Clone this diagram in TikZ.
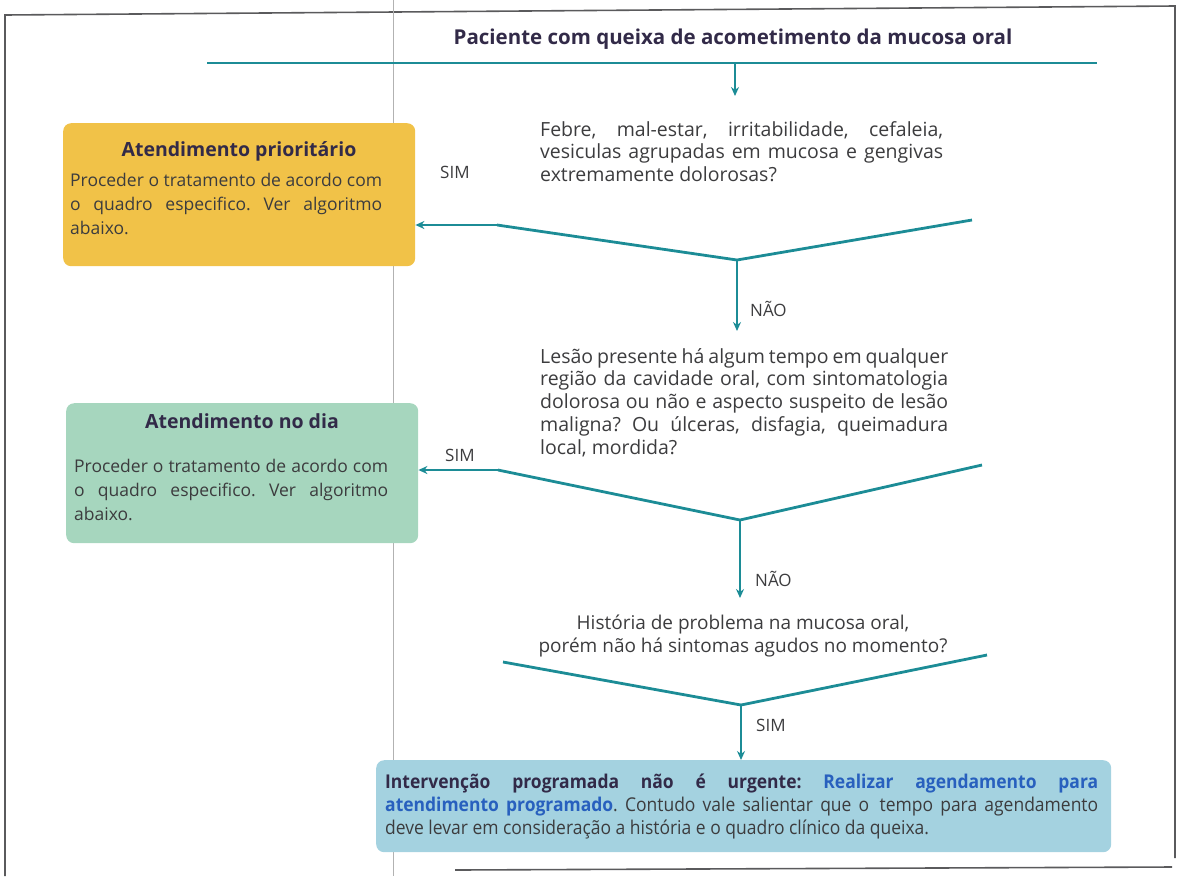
\documentclass[tikz,border=0pt]{standalone}
\usepackage{fontspec}
\setmainfont{Open Sans}
\newfontfamily\narrowfont[FakeStretch=0.92]{Open Sans}
\usetikzlibrary{arrows.meta}
\definecolor{flowline}{RGB}{28,140,150}
\definecolor{bodytext}{RGB}{60,60,62}
\definecolor{headtext}{RGB}{50,42,72}
\definecolor{prioFill}{RGB}{241,194,72}
\definecolor{diaFill}{RGB}{166,214,190}
\definecolor{progFill}{RGB}{164,210,224}
\definecolor{linkblue}{RGB}{40,96,190}
\definecolor{frame}{RGB}{90,90,92}
\hyphenpenalty=10000
\frenchspacing
\begin{document}
\begin{tikzpicture}[x=1pt,y=-1pt,
  flow/.style={draw=flowline, line width=2.8pt, line join=round},
  arr/.style={flow, -{Stealth[length=9pt,width=8pt]}},
  qtext/.style={text=bodytext, font=\fontsize{19.5}{22.8}\selectfont, align=justify, inner sep=0pt, anchor=base west},
  answer/.style={text=bodytext, font=\fontsize{17}{18}\selectfont, inner sep=0pt, anchor=base west},
  panel/.style={rounded corners=8pt, inner sep=0pt, anchor=north west},
  panelhead/.style={text=headtext, font=\fontsize{19.5}{20}\selectfont\bfseries, inner sep=0pt, anchor=base},
  panelbody/.style={text=bodytext, font=\fontsize{17.5}{24.3}\selectfont, align=justify, inner sep=0pt, anchor=base west}]
\useasboundingbox (0,0) rectangle (1182,876);

% page frame and fold
\draw[frame, line width=1.6pt] (5,876) -- (5,15) -- (1175,6) -- (1175,858);
\draw[frame, line width=1.6pt] (455,870) -- (1172,867);
\draw[gray!60, line width=1pt] (393,0) -- (393,876);

% heading
\node[text=headtext, font=\fontsize{20.5}{22}\selectfont\bfseries, inner sep=0pt, anchor=base] (title) at (733,44)
  {Paciente com queixa de acometimento da mucosa oral};
\coordinate (hl) at (207,63);
\coordinate (hr) at (1097,63);
\coordinate (hm) at (735,63);
\draw[flow] (hl) -- (hr);

% first question
\node[qtext, text width=403pt] (q1) at (540,136)
  {Febre, mal-estar, irritabilidade, cefaleia,\linebreak vesiculas agrupadas em mucosa e gengivas\linebreak extremamente dolorosas?};
\draw[arr] (hm) -- (735,96);

% priority panel
\node[panel, fill=prioFill, minimum width=352pt, minimum height=143pt] (prio) at (63,123) {};
\node[panelhead] (prioT) at (239,156) {Atendimento prioritário};
\node[panelbody, text width=312pt] (prioB) at (70,186)
  {Proceder o tratamento de acordo com\linebreak o quadro especifico. Ver algoritmo\linebreak abaixo.};

% first decision
\coordinate (v1) at (737,260);
\coordinate (v1r) at (972,220);
\coordinate (v1l) at (497,225);
\draw[flow] (v1r) -- (v1) -- (v1l);
\draw[arr] (v1l) -- (v1l -| prio.east);
\node[answer] (sim1) at (440,178) {SIM};
\draw[arr] (v1) -- (737,331);
\node[answer] (nao1) at (750,316) {NÃO};

% second question
\node[qtext, text width=408pt] (q2) at (540,363)
  {Lesão presente há algum tempo em qualquer\linebreak região da cavidade oral, com sintomatologia\linebreak dolorosa ou não e aspecto suspeito de lesão\linebreak maligna? Ou úlceras, disfagia, queimadura\linebreak local, mordida?};

% same-day panel
\node[panel, fill=diaFill, minimum width=352pt, minimum height=140pt] (dia) at (66,403) {};
\node[panelhead] (diaT) at (242,428) {Atendimento no dia};
\node[panelbody, text width=314pt] (diaB) at (74,472)
  {Proceder o tratamento de acordo com\linebreak o quadro especifico. Ver algoritmo\linebreak abaixo.};

% second decision
\coordinate (v2) at (740,520);
\coordinate (v2r) at (982,465);
\coordinate (v2l) at (498,470);
\draw[flow] (v2r) -- (v2) -- (v2l);
\draw[arr] (v2l) -- (v2l -| dia.east);
\node[answer] (sim2) at (445,461) {SIM};
\draw[arr] (v2) -- (740,598);
\node[answer] (nao2) at (755,586) {NÃO};

% third question (base anchor sits on the last line)
\node[text=bodytext, font=\fontsize{19}{22.8}\selectfont, align=center, inner sep=0pt, anchor=base] (q3) at (743,652)
  {História de problema na mucosa oral,\\porém não há sintomas agudos no momento?};

% third decision
\coordinate (v3) at (741,705);
\coordinate (v3r) at (987,655);
\coordinate (v3l) at (503,662);
\draw[flow] (v3l) -- (v3) -- (v3r);
\node[answer] (sim3) at (756,731) {SIM};

% scheduled panel
\node[panel, fill=progFill, minimum width=735pt, minimum height=92pt] (prog) at (376,760) {};
\draw[arr] (v3) -- (prog.north -| v3);
\node[text=bodytext, font=\narrowfont\fontsize{19}{23}\selectfont, align=justify, text width=713pt, inner sep=0pt, anchor=base west] (progB) at (385,788)
  {\textcolor{headtext}{\bfseries Intervenção programada não é urgente:} \textcolor{linkblue}{\bfseries Realizar agendamento para\linebreak atendimento programado}. Contudo vale salientar que o\, tempo para agendamento\linebreak deve levar em consideração a história e o quadro clínico da queixa.};
\end{tikzpicture}
\end{document}
